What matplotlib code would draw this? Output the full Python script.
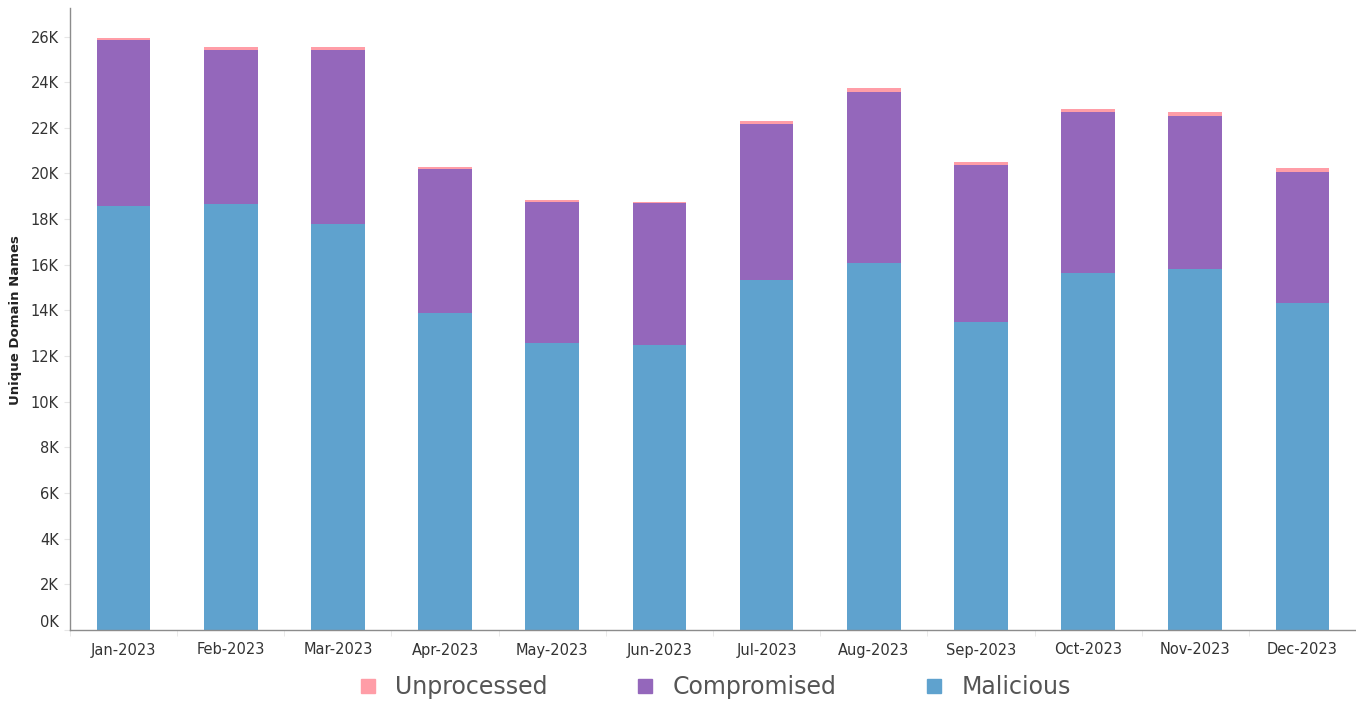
import matplotlib
matplotlib.use("Agg")
import matplotlib.pyplot as plt
from matplotlib.lines import Line2D
import numpy as np

months = ["Jan-2023", "Feb-2023", "Mar-2023", "Apr-2023", "May-2023", "Jun-2023",
          "Jul-2023", "Aug-2023", "Sep-2023", "Oct-2023", "Nov-2023", "Dec-2023"]
malicious = [18560, 18680, 17770, 13870, 12560, 12470, 15320, 16100, 13480, 15620, 15800, 14310]
compromised = [7270, 6750, 7620, 6310, 6170, 6220, 6830, 7460, 6870, 7060, 6700, 5740]
unprocessed = [90, 90, 130, 90, 90, 80, 130, 170, 140, 130, 180, 180]
series_names = ["Unprocessed", "Compromised", "Malicious"]
colors = {"Malicious": "#5fa2ce", "Compromised": "#9467bb", "Unprocessed": "#ff9da7"}
yticks = list(range(0, 26001, 2000))
ytick_labels = [f"{v // 1000}K" for v in yticks]

plt.rcParams['font.family'] = ['DejaVu Sans']
fig = plt.figure(figsize=(13.56, 7.04), dpi=100)
ax = fig.add_axes([70 / 1356, 1 - 630 / 704, 1 - 70 / 1356, (630 - 8) / 704])

x = np.arange(len(months))
w = 0.5
mal = np.array(malicious)
comp = np.array(compromised)
unp = np.array(unprocessed)
ax.bar(x, mal, width=w, color=colors["Malicious"], linewidth=0)
ax.bar(x, comp, width=w, bottom=mal, color=colors["Compromised"], linewidth=0)
ax.bar(x, unp, width=w, bottom=mal + comp, color=colors["Unprocessed"], linewidth=0)

ax.set_xlim(-0.5, len(months) - 0.5)
ax.set_ylim(0, 27250)
ax.set_yticks(yticks)
ax.set_yticklabels(ytick_labels)
ax.set_xticks(x)
ax.set_xticklabels(months)
ax.set_xticks(np.arange(-0.5, len(months), 1), minor=True)

for s in ["top", "right"]:
    ax.spines[s].set_visible(False)
for s in ["left", "bottom"]:
    ax.spines[s].set_color("#8c8c8c")
    ax.spines[s].set_linewidth(1.0)

ax.tick_params(axis="y", length=4, color="#e6e6e6", labelsize=10.5, labelcolor="#333333", pad=4)
ax.tick_params(axis="x", which="major", length=0, labelsize=10.5, labelcolor="#333333", pad=9)
ax.tick_params(axis="x", which="minor", length=4, color="#e6e6e6")
# nudge 0K label up like the reference
for lbl in ax.get_yticklabels():
    if lbl.get_text() == "0K":
        lbl.set_va("bottom")

fig.text(16 / 1356, 1 - 320 / 704, "Unique Domain Names", rotation=90, ha="center", va="center",
         fontsize=9.5, fontweight="bold", color="#222222")

handles = [Line2D([0], [0], marker="s", linestyle="none", markersize=10,
                  markerfacecolor=colors[n], markeredgecolor=colors[n]) for n in series_names]
leg = fig.legend(handles, series_names, loc="center", bbox_to_anchor=(715 / 1356, 1 - 687 / 704),
                 ncol=3, frameon=False, fontsize=17, handlelength=0.7, handletextpad=0.8,
                 columnspacing=3.8)
for t in leg.get_texts():
    t.set_color("#555555")

fig.savefig("out.png", dpi=100)
